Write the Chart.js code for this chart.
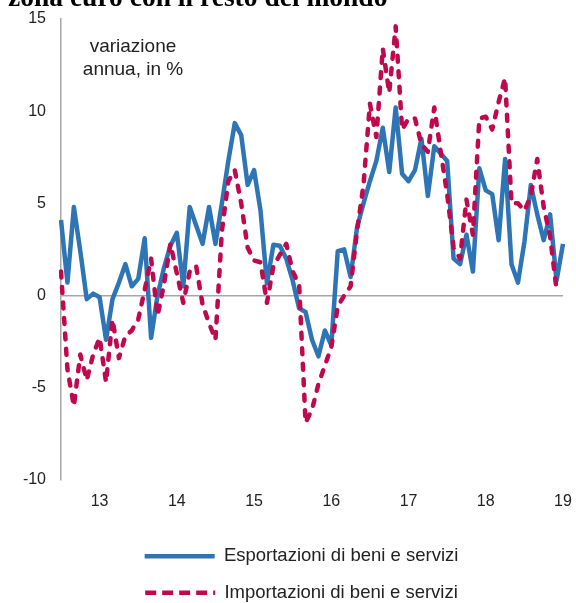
<!DOCTYPE html>
<html><head><meta charset="utf-8">
<script src="https://cdn.jsdelivr.net/npm/chart.js@4"></script>
<style>
html,body{margin:0;padding:0;background:#fff;overflow:hidden}
#wrap{position:relative;width:576px;height:603px;overflow:hidden}
#title{position:absolute;left:8px;top:-17px;font:bold 27.5px "Liberation Serif";line-height:27px;color:#000;white-space:nowrap}
#note{position:absolute;left:73px;top:34px;width:120px;text-align:center;font:19px "Liberation Sans";line-height:23px;color:#222}
canvas{position:absolute;left:0;top:0}
</style></head><body>
<div id="wrap"><canvas id="c" width="576" height="612"></canvas><div id="title">zona euro con il resto del mondo</div><div id="note">variazione<br>annua, in %</div></div>
<script>
const years = ['13','14','15','16','17','18','19'];
const monthNames = ['gen','feb','mar','apr','mag','giu','lug','ago','set','ott','nov','dic'];
const months = [];
for (const y of years) for (const m of monthNames) { if (months.length < 79) months.push(m + ' ' + y); }
const tickLabels = months.map(l => l.startsWith('lug') ? l.slice(4) : '');

const esportazioni = [
 4.1, 0.7, 4.8, 2.4, -0.2, 0.1, -0.1, -2.4, -0.2, 0.7, 1.7, 0.5, 0.9,
 3.1, -2.3, 0.0, 1.5, 2.7, 3.4, 0.5, 4.8, 3.8, 2.8, 4.8, 2.8, 5.0,
 7.3, 9.35, 8.7, 6.0, 6.8, 4.6, 0.65, 2.75, 2.7, 2.0, 0.8, -0.7, -0.9,
 -2.4, -3.3, -1.9, -2.7, 2.4, 2.5, 1.0, 3.7, 5.0, 6.2, 7.3, 9.1, 6.7,
 10.2, 6.6, 6.2, 6.8, 8.5, 5.4, 8.1, 7.7, 7.3, 2.0, 1.7, 3.3, 1.3,
 6.9, 5.7, 5.5, 3.0, 7.4, 1.7, 0.7, 2.9, 6.0, 4.4, 3.0, 4.4, 0.8, 2.8
];
const importazioni = [
 1.3, -4.0, -6.0, -3.2, -4.6, -3.2, -2.3, -4.7, -1.3, -3.4, -2.2, -1.9, -1.3,
 0.3, 2.0, -1.1, 0.6, 2.8, 1.2, -0.4, 1.3, 1.6, -0.5, -1.5, -2.4, 3.5,
 6.2, 6.8, 5.0, 2.6, 1.9, 1.8, -0.4, 1.6, 2.2, 2.8, 1.3, 0.6, -6.9,
 -6.2, -4.8, -3.8, -2.8, -0.6, 0.0, 0.5, 3.5, 6.0, 10.4, 8.6, 13.4, 11.0,
 14.6, 9.0, 9.6, 9.6, 8.2, 7.8, 10.2, 7.8, 5.5, 2.6, 2.0, 5.2, 3.3,
 9.6, 9.7, 9.0, 10.5, 11.8, 5.0, 5.0, 4.6, 5.4, 7.4, 4.8, 3.2, 0.3, null
];
const seriesNames = ['Esportazioni di beni e servizi', 'Importazioni di beni e servizi'];
const BLUE = '#2E75B6', RED = '#C0084F';

const shiftLegend = {
  id: 'shiftLegend',
  beforeDraw(chart) { if (chart.legend) chart.legend.left = 40; }
};

new Chart(document.getElementById('c'), {
  type: 'line',
  data: {
    labels: months,
    datasets: [
      { label: seriesNames[0], data: esportazioni, borderColor: BLUE, backgroundColor: BLUE,
        borderWidth: 4.5, pointRadius: 0, tension: 0, order: 2, borderJoinStyle: 'round' },
      { label: seriesNames[1], data: importazioni, borderColor: RED, backgroundColor: RED,
        borderWidth: 4.5, borderDash: [6, 9.5], borderCapStyle: 'round', borderJoinStyle: 'round',
        pointRadius: 0, tension: 0, order: 1 }
    ]
  },
  options: {
    responsive: false, animation: false, devicePixelRatio: 1,
    layout: { padding: { top: 0, right: 13, left: 0, bottom: 0 } },
    plugins: {
      tooltip: { enabled: false },
      legend: {
        position: 'bottom',
        labels: {
          usePointStyle: true, pointStyleWidth: 70, boxHeight: 18,
          color: '#222', font: { family: 'Liberation Sans', size: 18.5 }, padding: 18,
          generateLabels: (chart) => chart.data.datasets.map((d, i) => ({
            text: d.label, strokeStyle: d.borderColor, fillStyle: d.borderColor,
            lineWidth: 4.5, lineDash: i === 1 ? [11, 6] : [], pointStyle: 'line',
            datasetIndex: i, hidden: false, fontColor: '#222'
          }))
        }
      }
    },
    scales: {
      x: {
        type: 'category',
        grid: { display: false },
        border: { display: false },
        afterFit: s => { s.height += 14; },
        ticks: {
          autoSkip: false, maxRotation: 0, minRotation: 0, padding: 4,
          color: '#222', font: { family: 'Liberation Sans', size: 16 },
          callback: (v, i) => tickLabels[i]
        }
      },
      y: {
        min: -10, max: 15,
        afterFit: s => { s.width = 61; s.paddingTop = 19; s.paddingBottom = 10; },
        ticks: { stepSize: 5, padding: 15, color: '#222', font: { family: 'Liberation Sans', size: 16 } },
        grid: { drawTicks: false, lineWidth: 1.5, color: c => c.tick && c.tick.value === 0 ? '#a6a6a6' : 'rgba(0,0,0,0)' },
        border: { display: true, color: '#a6a6a6', width: 1.5 }
      }
    }
  },
  plugins: [shiftLegend]
});
</script>
</body></html>
